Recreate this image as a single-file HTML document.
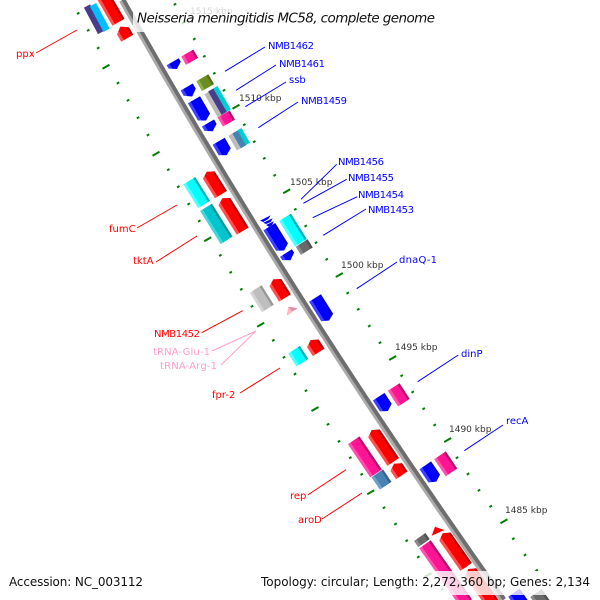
<!DOCTYPE html>
<html><head><meta charset="utf-8"><style>html,body{margin:0;padding:0;background:#fff}svg{display:block}text{font-family:"DejaVu Sans",sans-serif}</style></head>
<body><svg width="600" height="600" viewBox="0 0 600 600" xmlns="http://www.w3.org/2000/svg">
<defs>
<linearGradient id="red" x1="0" y1="0" x2="0" y2="1"><stop offset=".17" stop-color="#c00000"/><stop offset=".17" stop-color="#f00"/><stop offset=".78" stop-color="#f00"/><stop offset=".78" stop-color="#ff5050"/></linearGradient>
<linearGradient id="blue" x1="0" y1="0" x2="0" y2="1"><stop offset=".17" stop-color="#0000c8"/><stop offset=".17" stop-color="#00f"/><stop offset=".78" stop-color="#00f"/><stop offset=".78" stop-color="#4040ff"/></linearGradient>
<linearGradient id="cyan" x1="0" y1="0" x2="0" y2="1"><stop offset=".17" stop-color="#00b4b4"/><stop offset=".17" stop-color="#0ff"/><stop offset=".78" stop-color="#0ff"/><stop offset=".78" stop-color="#50ffff"/></linearGradient>
<linearGradient id="teal" x1="0" y1="0" x2="0" y2="1"><stop offset=".17" stop-color="#009a9e"/><stop offset=".17" stop-color="#00c5cd"/><stop offset=".78" stop-color="#00c5cd"/><stop offset=".78" stop-color="#40d8dc"/></linearGradient>
<linearGradient id="pink" x1="0" y1="0" x2="0" y2="1"><stop offset=".17" stop-color="#b80e6e"/><stop offset=".17" stop-color="#ff1493"/><stop offset=".78" stop-color="#ff1493"/><stop offset=".78" stop-color="#ff50b0"/></linearGradient>
<linearGradient id="ltg" x1="0" y1="0" x2="0" y2="1"><stop offset=".17" stop-color="#999"/><stop offset=".17" stop-color="#bebebe"/><stop offset=".78" stop-color="#bebebe"/><stop offset=".78" stop-color="#d4d4d4"/></linearGradient>
<linearGradient id="dkg" x1="0" y1="0" x2="0" y2="1"><stop offset=".17" stop-color="#505050"/><stop offset=".17" stop-color="#696969"/><stop offset=".78" stop-color="#696969"/><stop offset=".78" stop-color="#8a8a8a"/></linearGradient>
<linearGradient id="steel" x1="0" y1="0" x2="0" y2="1"><stop offset=".17" stop-color="#356590"/><stop offset=".17" stop-color="#4682b4"/><stop offset=".78" stop-color="#4682b4"/><stop offset=".78" stop-color="#70a0c8"/></linearGradient>
<linearGradient id="olive" x1="0" y1="0" x2="0" y2="1"><stop offset=".17" stop-color="#557019"/><stop offset=".17" stop-color="#6b8e23"/><stop offset=".78" stop-color="#6b8e23"/><stop offset=".78" stop-color="#8fae50"/></linearGradient>
</defs>

<!-- backbone -->
<path d="M122 0Q290 300 503 600" fill="none" stroke="#aaa" stroke-width="6.500"/>
<path d="M123.300 -.8Q291.300 299.200 504.300 599.200" fill="none" stroke="#6e6e6e" stroke-width="3.900"/>

<!-- ticks minor -->
<path stroke="#008000" stroke-width="2" fill="none" d="M77 14l2.4-1.4M87 31l2.4-1.4M97 48.7l2.4-1.4M116.800 83.700l2.4-1.4M126.800 101l2.4-1.4M136.800 118.400l2.4-1.4M146.800 135.700l2.4-1.4M167.100 170.400l2.4-1.4M177.100 187.400l2.4-1.4M187.500 204.700l2.4-1.4M198.100 221.700l2.4-1.4M219.100 256l2.4-1.4M229.500 273l2.4-1.4M240.100 290l2.4-1.4M250.800 307l2.4-1.4M272.100 341l2.4-1.4M282.800 358l2.4-1.4M293.800 374.700l2.4-1.4M304.800 391.400l2.4-1.4M326.800 425l2.4-1.4M337.800 442l2.4-1.4M349.100 458.400l2.4-1.4M360.500 475l2.4-1.4M382.800 508.400l2.4-1.4M394.300 524.700l2.4-1.4M405.500 541.400l2.4-1.4M417.100 557.700l2.4-1.4M173.800 5l2.4-1.4M193.100 39.700l2.4-1.4M203.100 57l2.4-1.4M213.100 74l2.4-1.4M222.800 91l2.4-1.4M243.100 125.400l2.4-1.4M253.100 142.400l2.4-1.4M263.100 159l2.4-1.4M273.500 176l2.4-1.4M294.100 210l2.4-1.4M304.500 226.700l2.4-1.4M314.800 243.400l2.4-1.4M325.500 260l2.4-1.4M346.500 293.700l2.4-1.4M357.100 310l2.4-1.4M368.100 326.700l2.4-1.4M378.800 343.400l2.4-1.4M400.500 376.400l2.4-1.4M411.500 392.700l2.4-1.4M422.500 409.400l2.4-1.4M433.500 425.700l2.4-1.4M455.800 458.400l2.4-1.4M466.800 474.700l2.4-1.4M477.800 491l2.4-1.4M489.500 507l2.4-1.4M512.100 539.400l2.4-1.4M523.800 555.700l2.4-1.4M535.500 571l2.4-1.4M441 590l2.4-1.4"/>
<!-- ticks major -->
<path stroke="#008000" stroke-width="2" fill="none" d="M102.500 68.700l7-4M152.500 155.700l7-4M204.200 241.300l7-4M257.200 326.700l7-4M311.500 411l7-4M367.200 494.300l7-4M424.500 577l7-4M181.500 23.700l7-4M232.500 108.700l7-4M283.200 193.300l7-4M335.800 277l7-4M389.200 360l7-4M444.200 442l7-4M500.500 523.300l7-4"/>

<!-- genes -->
<rect transform="translate(87 6) rotate(62)" x="0" y="-3.500" width="30" height="7" fill="#483d8b"/>
<rect transform="translate(93 4.700) rotate(62)" x="0" y="-3.500" width="29" height="7" fill="#00bfff"/>
<path transform="translate(101 -8) rotate(60)" d="M0 0L4-7H35V7H4Z" fill="url(#red)"/>
<path transform="translate(120.500 26.500) rotate(60)" d="M0 0L5-7H13.500V7H5Z" fill="url(#red)"/>
<path transform="translate(172.700 61.700) rotate(60)" d="M0-7H4L8.500 0L4 7H0Z" fill="url(#blue)"/>
<rect transform="translate(187.300 53) rotate(60)" x="0" y="-7" width="9.600" height="14" fill="url(#pink)"/>
<rect transform="translate(202.300 77.700) rotate(60)" x="0" y="-7" width="11.400" height="14" fill="url(#olive)"/>
<path transform="translate(186.700 87) rotate(60)" d="M0-7H6L11 0L6 7H0Z" fill="url(#blue)"/>
<path transform="translate(194 99.700) rotate(60)" d="M0-7H20L24 0L20 7H0Z" fill="url(#blue)"/>
<path transform="translate(208 123) rotate(60)" d="M0-7H5L9.500 0L5 7H0Z" fill="url(#blue)"/>
<rect transform="translate(207 92.700) rotate(60)" x="0" y="-3" width="27" height="6" fill="#bbb"/>
<rect transform="translate(215.300 87.300) rotate(60)" x="0" y="-2.500" width="27" height="5" fill="#00ced1"/>
<rect transform="translate(210.700 90) rotate(60)" x="0" y="-3" width="27" height="6" fill="#483d8b"/>
<rect transform="translate(223.700 114) rotate(60)" x="0" y="-7" width="10.500" height="14" fill="url(#pink)"/>
<path transform="translate(218.700 141.300) rotate(60)" d="M0-7H12L16 0L12 7H0Z" fill="url(#blue)"/>
<rect transform="translate(231 134.300) rotate(60)" x="0" y="-3" width="17" height="6" fill="#bbb"/>
<rect transform="translate(239.300 129.300) rotate(60)" x="0" y="-2.500" width="17" height="5" fill="#00ced1"/>
<rect transform="translate(235 132) rotate(60)" x="0" y="-3" width="17" height="6" fill="#4682b4"/>
<rect transform="translate(189.300 180.700) rotate(58)" x="0" y="-7" width="28" height="14" fill="url(#cyan)"/>
<path transform="translate(206.700 171.700) rotate(58)" d="M0 0L4-7H27V7H4Z" fill="url(#red)"/>
<rect transform="translate(206 207.300) rotate(58)" x="0" y="-7" width="39" height="14" fill="url(#teal)"/>
<path transform="translate(222.300 198.300) rotate(58)" d="M0 0L4-7H38.600V7H4Z" fill="url(#red)"/>
<path d="M260 220.700L270.700 215.300L268.300 219L263.300 222ZM263.300 222.700L272.700 218.300L270.700 222L266 224ZM266 225L274 221.300L272 225L269 226.700Z" fill="#00f"/>
<path transform="translate(269.300 226.700) rotate(58)" d="M0-7H24L28 0L24 7H0Z" fill="url(#blue)"/>
<rect transform="translate(285 217.300) rotate(58)" x="0" y="-7" width="30" height="14" fill="url(#cyan)"/>
<rect transform="translate(301.700 243) rotate(58)" x="0" y="-7" width="9.700" height="14" fill="url(#dkg)"/>
<path transform="translate(286 253) rotate(58)" d="M0-7H4L8.500 0L4 7H0Z" fill="url(#blue)"/>
<rect transform="translate(255.700 289) rotate(58)" x="0" y="-7" width="23" height="14" fill="url(#ltg)"/>
<path transform="translate(273.300 279.300) rotate(58)" d="M0 0L4-7H22V7H4Z" fill="url(#red)"/>
<path d="M288.300 306.700L297.700 308.300L286.700 315.700Z" fill="#ffb6c1"/>
<path d="M288.300 306.700L297.700 308.300L292 311Z" fill="#d88aa8"/>
<path transform="translate(315 298) rotate(58)" d="M0-7H23L26.600 0L23 7H0Z" fill="url(#blue)"/>
<rect transform="translate(294 349.700) rotate(57)" x="0" y="-7" width="15.500" height="14" fill="url(#cyan)"/>
<path transform="translate(310.700 340) rotate(57)" d="M0 0L4-7H14.700V7H4Z" fill="url(#red)"/>
<path transform="translate(378.700 396.700) rotate(57)" d="M0-7H13L17 0L13 7H0Z" fill="url(#blue)"/>
<rect transform="translate(393.700 387) rotate(57)" x="0" y="-7" width="18.700" height="14" fill="url(#pink)"/>
<rect transform="translate(353.700 440.300) rotate(56)" x="0" y="-7" width="40" height="14" fill="url(#pink)"/>
<path transform="translate(371.700 430) rotate(56)" d="M0 0L4-7H38.500V7H4Z" fill="url(#red)"/>
<path transform="translate(394 463.700) rotate(56)" d="M0 0L4-7H14V7H4Z" fill="url(#red)"/>
<rect transform="translate(377.300 473.300) rotate(56)" x="0" y="-7" width="15" height="14" fill="url(#steel)"/>
<path transform="translate(425.300 465.300) rotate(56)" d="M0-7H16L19.700 0L16 7H0Z" fill="url(#blue)"/>
<rect transform="translate(440 455.300) rotate(56)" x="0" y="-7" width="20.600" height="14" fill="url(#pink)"/>
<path d="M431.700 535.700L435 526.700L444.300 530Z" fill="#f00"/>
<rect transform="translate(419.700 537) rotate(55)" x="0" y="-7" width="7.500" height="14" fill="url(#dkg)"/>
<rect transform="translate(425 544.300) rotate(55)" x="0" y="-7" width="72" height="14" fill="url(#pink)"/>
<path transform="translate(442.700 533.300) rotate(55)" d="M0 0L4-7H41V7H4Z" fill="url(#red)"/>
<path transform="translate(468.300 569) rotate(55)" d="M0 0L4-7H45V7H4Z" fill="url(#red)"/>
<rect transform="translate(514 592.700) rotate(55)" x="0" y="-7" width="15" height="14" fill="url(#blue)"/>
<rect transform="translate(536 593) rotate(55)" x="0" y="-7" width="15" height="14" fill="url(#dkg)"/>

<!-- kbp labels -->
<g font-size="9" fill="#333">
<text x="190" y="14">1515 kbp</text>
<text x="239" y="101">1510 kbp</text>
<text x="290" y="185">1505 kbp</text>
<text x="341" y="268">1500 kbp</text>
<text x="395" y="350">1495 kbp</text>
<text x="449" y="432">1490 kbp</text>
<text x="505" y="513">1485 kbp</text>
</g>

<!-- connector lines -->
<g stroke="#00f" fill="none" stroke-width="1">
<path d="M225 71.300L265 47M236 90.300L276 65M245.300 106.700L286 82M258.300 127.700L298 102M301 199.300L336.700 164.300M303.300 203.300L346.700 179.300M312.700 217.700L357.300 196.700M323.300 235.300L366 209M356.700 288.700L397 262M417.700 381.700L458.300 355M464.300 450.700L503 425"/>
</g>
<g stroke="#f00" fill="none" stroke-width="1">
<path d="M36 53L77 30M137 228L177 205M156 262L197 236M201.700 332.700L242.700 310.700M240 393L280 368M307.700 495L346 469.700M322 519L362 493"/>
</g>
<path d="M212 351L256 331L221 365" stroke="#ff9ecb" fill="none" stroke-width="1"/>

<!-- gene labels -->
<g font-size="10" fill="#00f">
<text x="268" y="49" textLength="46">NMB1462</text>
<text x="279" y="67" textLength="46">NMB1461</text>
<text x="289" y="83">ssb</text>
<text x="301" y="104" textLength="46">NMB1459</text>
<text x="338" y="165" textLength="46">NMB1456</text>
<text x="348" y="181" textLength="46">NMB1455</text>
<text x="358" y="198" textLength="46">NMB1454</text>
<text x="368" y="213" textLength="46">NMB1453</text>
<text x="399" y="263" textLength="38">dnaQ-1</text>
<text x="461" y="357">dinP</text>
<text x="506" y="424">recA</text>
</g>
<g font-size="10" fill="#f00">
<text x="16" y="57">ppx</text>
<text x="109" y="232">fumC</text>
<text x="133" y="264">tktA</text>
<text x="154" y="337" textLength="46">NMB1452</text>
<text x="212" y="398">fpr-2</text>
<text x="290" y="499">rep</text>
<text x="298" y="523">aroD</text>
</g>
<g font-size="10" fill="#ff9ecb">
<text x="153" y="355" textLength="57">tRNA-Glu-1</text>
<text x="160" y="369" textLength="57">tRNA-Arg-1</text>
</g>

<!-- title and footer bands -->
<rect x="133" y="7" width="306" height="25" fill="#fff" fill-opacity=".8"/>
<rect x="5" y="571" width="142" height="24" fill="#fff" fill-opacity=".8"/>
<rect x="256" y="571" width="338" height="24" fill="#fff" fill-opacity=".8"/>
<text x="137" y="22.500" font-size="13.500" fill="#111" textLength="298"><tspan font-style="italic">Neisseria meningitidis</tspan> <tspan font-style="italic">MC58, complete genome</tspan></text>
<text x="9" y="586" font-size="12" fill="#111" textLength="134">Accession: NC_003112</text>
<text x="261" y="586" font-size="12" fill="#111" textLength="329">Topology: circular; Length: 2,272,360 bp; Genes: 2,134</text>
</svg></body></html>
